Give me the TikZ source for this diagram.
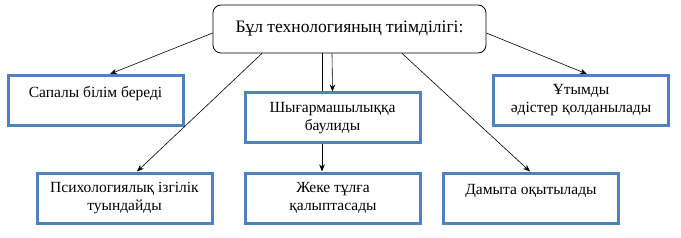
\documentclass[tikz,border=0pt]{standalone}
\usepackage{fontspec}
\setmainfont{Liberation Serif}
\newfontfamily\kzserif{Liberation Serif}
\usetikzlibrary{arrows.meta}
\definecolor{boxblue}{RGB}{79,129,189}

\begin{document}
\begin{tikzpicture}[x=1pt,y=-1pt,
    goal/.style={draw,rounded corners=8pt,line width=.8pt,fill=white,
      minimum width=273pt,minimum height=48pt,font=\kzserif\fontsize{17.5}{20}\selectfont},
    effect/.style={draw=boxblue,line width=3pt,fill=white,minimum width=175pt,
      minimum height=50pt,align=center,font=\kzserif\fontsize{15.5}{18}\selectfont},
    link/.style={-{Stealth[length=7pt,width=5.5pt]},line width=.6pt}]
  \useasboundingbox (0,0) rectangle (681,238);
  \node[goal] (goal) at (349.5,29) {Бұл технологияның тиімділігі:};
  \node[effect] (sapa) at (95.5,100.5) {Сапалы білім береді\\\mbox{}};
  \node[effect] (utym) at (581,100.5) {Ұтымды\\әдістер қолданылады};
  \node[effect] (psych) at (124.5,198) {Психологиялық ізгілік\\туындайды};
  \node[effect] (tulga) at (333,198) {Жеке тұлға\\қалыптасады};
  \node[effect] (damu) at (531,198) {Дамыта оқытылады\\\mbox{}};
  \draw[link] ([xshift=-27.5pt]goal.south) -- ([xshift=-11pt]tulga.north);
  \node[effect] (shyg) at (332.5,118) {Шығармашылыққа\\баулиды};
  \draw[link] ([yshift=-4pt]goal.west) -- ([xshift=14.5pt]sapa.north);
  \draw[link] ([xshift=-87.5pt]goal.south) -- ([xshift=12.5pt]psych.north);
  \draw[link] ([xshift=-17.5pt]goal.south) -- (shyg.north);
  \draw[link] ([xshift=52.5pt]goal.south) -- ([xshift=-1pt]damu.north);
  \draw[link] ([yshift=-4pt]goal.east) -- ([xshift=6pt]utym.north);
\end{tikzpicture}
\end{document}
